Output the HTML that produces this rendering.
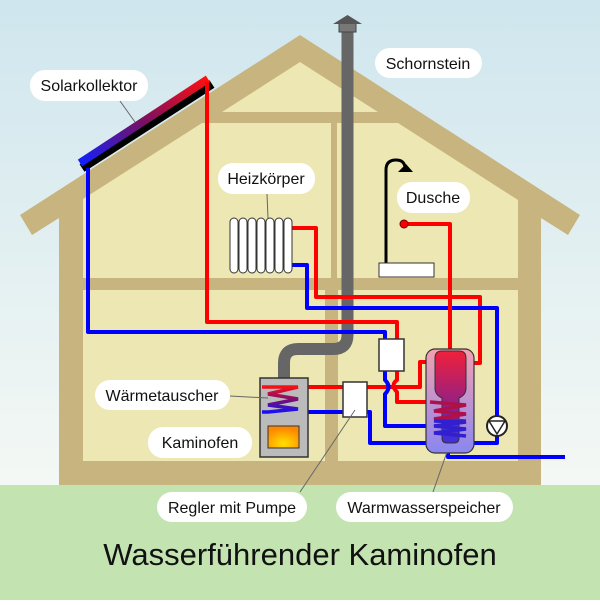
<!DOCTYPE html>
<html><head><meta charset="utf-8"><style>
html,body{margin:0;padding:0}
body{width:600px;height:600px;overflow:hidden;font-family:"Liberation Sans","DejaVu Sans",sans-serif}
</style></head><body>
<svg width="600" height="600" viewBox="0 0 600 600" xmlns="http://www.w3.org/2000/svg">
<defs>
<linearGradient id="sky" x1="0" y1="0" x2="0" y2="1">
<stop offset="0" stop-color="#cfe6ee"/><stop offset="1" stop-color="#f4f8f4"/></linearGradient>
<linearGradient id="sol" x1="0" y1="1" x2="1" y2="0">
<stop offset="0" stop-color="#1020ff"/><stop offset="0.5" stop-color="#7a1060"/><stop offset="1" stop-color="#ff1010"/></linearGradient>
<linearGradient id="tank" x1="0" y1="0" x2="0" y2="1">
<stop offset="0" stop-color="#f4a0b0"/><stop offset="1" stop-color="#8a86f0"/></linearGradient>
<linearGradient id="tin" x1="0" y1="0" x2="0" y2="1">
<stop offset="0" stop-color="#f0203a"/><stop offset="0.5" stop-color="#a0207a"/><stop offset="1" stop-color="#3a30e0"/></linearGradient>
<linearGradient id="coil" gradientUnits="userSpaceOnUse" x1="0" y1="386" x2="0" y2="413">
<stop offset="0" stop-color="#ff1010"/><stop offset="0.5" stop-color="#7a1070"/><stop offset="1" stop-color="#1010ff"/></linearGradient>
<radialGradient id="fire" cx="0.5" cy="0.8" r="0.7">
<stop offset="0" stop-color="#ffe000"/><stop offset="1" stop-color="#ff8800"/></radialGradient>
</defs>
<rect width="600" height="485" fill="url(#sky)"/>
<rect y="485" width="600" height="115" fill="#c3e3b0"/>
<polygon points="20,215 300,35 580,215 568,235 541,218 541,485 59,485 59,218 32,235" fill="#c8b47e"/>
<polygon points="222,112 300,62 378,112" fill="#ede7b3"/>
<polygon points="83,278 83,199 202,123 331,123 331,278" fill="#ede7b3"/>
<polygon points="337,123 398,123 518,200 518,278 337,278" fill="#ede7b3"/>
<rect x="83" y="290" width="242" height="171" fill="#ede7b3"/>
<rect x="338" y="290" width="180" height="171" fill="#ede7b3"/>
<path d="M347.5,25 V335 Q347.5,349 333,349 H298 Q284,349 284,363 V380" fill="none" stroke="#666" stroke-width="12"/>
<rect x="339" y="22" width="17" height="10" fill="#777" stroke="#444"/>
<polygon points="333,24 347.5,15 362,24" fill="#555"/>
<line x1="82" y1="168" x2="212" y2="84" stroke="#000" stroke-width="9"/>
<line x1="80" y1="163" x2="208" y2="79" stroke="url(#sol)" stroke-width="8"/>
<g fill="none" stroke-width="4" stroke-linejoin="round">
<path d="M207,82 V322 H397 V339" stroke="#f00"/>
<path d="M88,168 V332 H385 V339" stroke="#00f"/>
<path d="M292,228 H316 V297 H480 V363 H474" stroke="#f00"/>
<path d="M292,265 H307 V308 H497 V416" stroke="#00f"/>
<path d="M404,224 H450 V351" stroke="#f00"/>
<path d="M268,387 H343" stroke="#f00"/>
<path d="M367,387 H420 V362 H427" stroke="#f00"/>
<path d="M268,412 H343" stroke="#00f"/>
<path d="M367,412 H370 V443 H497 V436" stroke="#00f"/>
<path d="M397,371 V380 Q390,385 397,392 V402 H466" stroke="#f00"/>
<path d="M385,371 V380 Q392,387 385,394 V426 H466" stroke="#00f"/>
<path d="M448,452 V457 H565" stroke="#00f"/>
</g>
<rect x="260" y="378" width="48" height="79" fill="#bbb" stroke="#333" stroke-width="1.5"/>
<rect x="268" y="426" width="31" height="22" fill="url(#fire)" stroke="#333"/>
<polyline points="262,387 298,387 268,394 298,399 268,405 298,409 268,412 262,412" fill="none" stroke="url(#coil)" stroke-width="3.5"/>
<rect x="343" y="382" width="24" height="35" fill="#fff" stroke="#333" stroke-width="1.5"/>
<rect x="379" y="339" width="25" height="32" fill="#fff" stroke="#333" stroke-width="1.5"/>
<rect x="426" y="349" width="48" height="104" rx="9" fill="url(#tank)" stroke="#333" stroke-width="1.2"/>
<path d="M435,358 Q435,351 442,351 H459 Q466,351 466,358 V388 Q466,395 459,398 V438 Q459,443 454,443 H447 Q442,443 442,438 V398 Q435,395 435,388 Z" fill="url(#tin)" stroke="#333"/>
<polyline points="430,402 466,405 434,411 466,414 434,419 466,421" fill="none" stroke="#b0104a" stroke-width="3.5"/>
<polyline points="434,421 466,422 434,426 466,429 434,433 466,436" fill="none" stroke="#3020d0" stroke-width="3.5"/>
<circle cx="497" cy="426" r="10" fill="#fff" stroke="#222" stroke-width="2"/>
<polygon points="489,421 505,421 497,434" fill="none" stroke="#222" stroke-width="1.5"/>
<g fill="#fff" stroke="#333" stroke-width="1">
<rect x="230" y="218" width="8" height="55" rx="4"/><rect x="239" y="218" width="8" height="55" rx="4"/>
<rect x="248" y="218" width="8" height="55" rx="4"/><rect x="257" y="218" width="8" height="55" rx="4"/>
<rect x="266" y="218" width="8" height="55" rx="4"/><rect x="275" y="218" width="8" height="55" rx="4"/>
<rect x="284" y="218" width="8" height="55" rx="4"/>
</g>
<path d="M386,263 V170 Q386,160 396,160 Q404,160 405,167" fill="none" stroke="#000" stroke-width="3"/>
<polygon points="398,172 413,172 406,164" fill="#000"/>
<rect x="379" y="263" width="55" height="14" fill="#fff" stroke="#333"/>
<circle cx="404" cy="224" r="4" fill="#f00" stroke="#600"/>
<g stroke="#666" stroke-width="1">
<line x1="120" y1="101" x2="135" y2="122"/>
<line x1="267" y1="194" x2="268" y2="218"/>
<line x1="230" y1="396" x2="268" y2="398"/>
<line x1="300" y1="492" x2="355" y2="410"/>
<line x1="433" y1="492" x2="447" y2="452"/>
</g>
<g fill="#fff">
<rect x="30" y="70" width="118" height="31" rx="15"/>
<rect x="375" y="48" width="107" height="30" rx="15"/>
<rect x="218" y="163" width="97" height="31" rx="15"/>
<rect x="397" y="182" width="73" height="31" rx="15"/>
<rect x="95" y="380" width="135" height="30" rx="15"/>
<rect x="148" y="427" width="104" height="31" rx="15"/>
<rect x="157" y="492" width="150" height="30" rx="15"/>
<rect x="336" y="492" width="177" height="30" rx="15"/>
</g>
<g font-size="16" fill="#111" text-anchor="middle">
<text x="89" y="91">Solarkollektor</text>
<text x="428" y="69">Schornstein</text>
<text x="266" y="184">Heizkörper</text>
<text x="433" y="203">Dusche</text>
<text x="162" y="401">Wärmetauscher</text>
<text x="200" y="448">Kaminofen</text>
<text x="232" y="513">Regler mit Pumpe</text>
<text x="424" y="513">Warmwasserspeicher</text>
</g>
<text x="300" y="565" font-size="31" fill="#111" text-anchor="middle">Wasserführender Kaminofen</text>
</svg>
</body></html>
